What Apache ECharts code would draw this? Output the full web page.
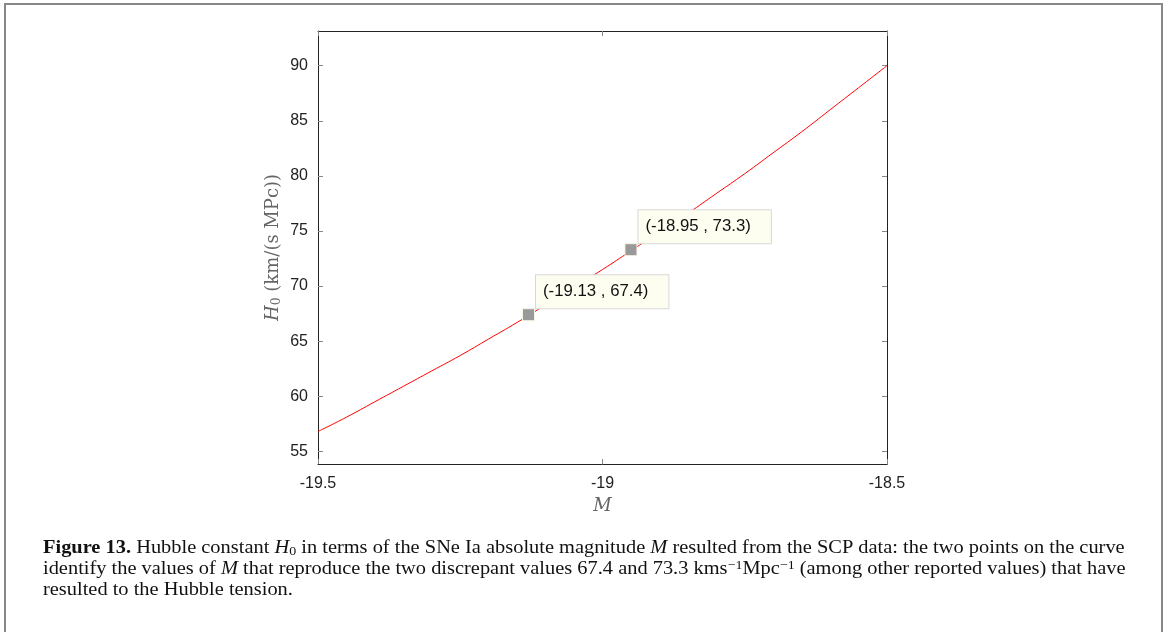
<!DOCTYPE html>
<html>
<head>
<meta charset="utf-8">
<script src="https://cdn.jsdelivr.net/npm/echarts@6/dist/echarts.min.js"></script>
<style>
html,body{margin:0;padding:0;background:#fff;}
#chart{width:1170px;height:632px;}
</style>
</head>
<body>
<div id="chart"></div>
<script>
// Curve samples: absolute magnitude M vs H0
const curveM = [-19.5,-19.45,-19.4,-19.35,-19.3,-19.25,-19.2,-19.15,-19.1,-19.05,-19.0,-18.95,-18.9,-18.85,-18.8,-18.75,-18.7,-18.65,-18.6,-18.55,-18.5];
const curveH = [56.8,58.1,59.5,60.9,62.3,63.7,65.2,66.7,68.3,69.9,71.5,73.2,74.9,76.6,78.4,80.2,82.1,84.0,86.0,88.0,90.0];
// Highlighted points
const pointsM = [-19.13, -18.95];
const pointsH = [67.4, 73.3];
// Axis ticks
const yTicks = [55,60,65,70,75,80,85,90];
const xTicks = [-19.5,-19,-18.5];
const captionLines = [
  '{b|Figure 13.} Hubble constant {i|H}{sub|0} in terms of the SNe Ia absolute magnitude {i|M} resulted from the SCP data: the two points on the curve',
  'identify the values of {i|M} that reproduce the two discrepant values 67.4 and 73.3 kms{sup|\u22121}Mpc{sup|\u22121} (among other reported values) that have',
  'resulted to the Hubble tension.'
];

const chart = echarts.init(document.getElementById('chart'), null, {renderer:'canvas'});
const serif = '"Liberation Serif", "DejaVu Serif", serif';
const cmSerif = '"DejaVu Serif", "Liberation Serif", serif';
const sans = '"Liberation Sans", Arial, sans-serif';
const capSize = 19;
const capRich = {
  b:{fontWeight:'bold', fontFamily:serif, fontSize:capSize, color:'#111'},
  i:{fontStyle:'italic', fontFamily:serif, fontSize:capSize, color:'#111'},
  sub:{fontFamily:serif, fontSize:13, color:'#111', verticalAlign:'bottom', padding:[7,0,0,0]},
  sup:{fontFamily:serif, fontSize:13, color:'#111', verticalAlign:'top', padding:[0,0,7,0]}
};

const tickStyle = {show:true, inside:true, length:5, lineStyle:{color:'#888', width:1}};
const lineStyle = {show:true, lineStyle:{color:'#222', width:1}};

chart.setOption({
  animation:false,
  backgroundColor:'#fff',
  grid:{left:318, right:283, top:31, bottom:168, containLabel:false},
  xAxis:[{
    type:'value', min:-19.5, max:-18.5, interval:0.5,
    axisLine:lineStyle, axisTick:tickStyle, splitLine:{show:false},
    axisLabel:{fontFamily:sans, fontSize:16, color:'#222', margin:12,
      customValues: xTicks},
    name:'{i|M}', nameLocation:'middle', nameGap:32,
    nameTextStyle:{fontFamily:cmSerif, fontSize:18, color:'#666',
      rich:{i:{fontStyle:'italic', fontFamily:cmSerif, fontSize:18, color:'#666'}}}
  },{
    type:'value', position:'top', min:-19.5, max:-18.5, interval:0.5,
    axisLine:lineStyle, axisTick:tickStyle, axisLabel:{show:false}, splitLine:{show:false}
  }],
  yAxis:[{
    type:'value', min:53.85, max:93.15,
    axisLine:lineStyle, splitLine:{show:false},
    axisTick:Object.assign({customValues:yTicks}, tickStyle),
    axisLabel:{fontFamily:sans, fontSize:16, color:'#222', margin:10, customValues:yTicks},
    name:'{i|H}{sub|0} (km/(s MPc))', nameLocation:'middle', nameGap:35,
    nameTextStyle:{fontFamily:cmSerif, fontSize:18, color:'#666',
      rich:{
        i:{fontStyle:'italic', fontFamily:cmSerif, fontSize:18, color:'#666'},
        sub:{fontFamily:cmSerif, fontSize:12.5, color:'#666', verticalAlign:'bottom', padding:[6,0,0,0]}
      }}
  },{
    type:'value', position:'right', min:53.85, max:93.15,
    axisLine:lineStyle, splitLine:{show:false},
    axisTick:Object.assign({customValues:yTicks}, tickStyle),
    axisLabel:{show:false}
  }],
  series:[{
    type:'line', smooth:true, showSymbol:false, symbol:'none',
    data: curveM.map((m,i)=>[m, curveH[i]]),
    lineStyle:{color:'#ff0000', width:1},
    z:2
  },{
    type:'scatter', symbol:'rect', symbolSize:12,
    data: pointsM.map((m,i)=>[m, pointsH[i]]),
    itemStyle:{color:'#999999', borderColor:'#f4f4e4', borderWidth:1, opacity:1},
    label:{show:true, position:[14,-33], align:'left', verticalAlign:'top',
      formatter:p=>'(' + p.value[0] + ' , ' + p.value[1] + ')',
      fontFamily:sans, fontSize:16.8, color:'#111', lineHeight:19,
      backgroundColor:'#fefef0', borderColor:'#d8d8d8', borderWidth:1,
      padding:[7,20,7,7]},
    z:3
  }],
  graphic:[
    {type:'rect', shape:{x:5, y:4, width:1157, height:700}, style:{fill:'none', stroke:'#888', lineWidth:2}, silent:true},
    ...captionLines.map((t,i)=>({
      type:'text', x:43, y:548 + i*21, scaleX:1.074,
      style:{text:t, x:0, y:0, verticalAlign:'middle', align:'left', fontFamily:serif, fontSize:capSize, fill:'#111', rich:capRich}
    }))
  ]
});
</script>
</body>
</html>
